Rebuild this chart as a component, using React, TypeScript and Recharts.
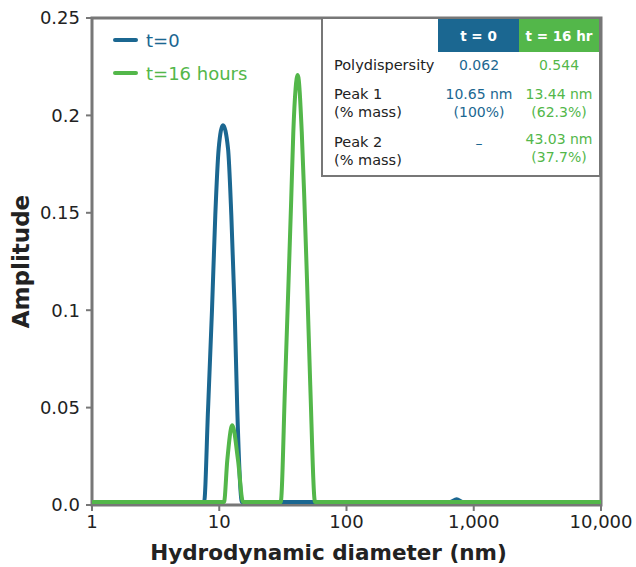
import { LineChart, Line, XAxis, YAxis, ReferenceArea } from 'recharts';

// baseline of both traces sits just above zero
const BASE = 0.0015;

const t0Diameter = [1, 7.6, 8.16, 8.77, 9.31, 9.9, 10.7, 11.72, 12.44, 13.22, 13.86, 15.1, 650, 734, 820, 10000];
const t0Amplitude = [BASE, BASE, 0.0487, 0.1001, 0.1488, 0.183, 0.195, 0.183, 0.1488, 0.1001, 0.0487, BASE, BASE, 0.003, BASE, BASE];

const t16Diameter = [1, 10.9, 11.57, 12.66, 14.04, 15.37, 30.4, 32.9, 35.1, 36.8, 38.2, 41.4, 44.5, 46.6, 48.9, 51.9, 56.6, 10000];
const t16Amplitude = [BASE, BASE, 0.0231, 0.041, 0.0231, BASE, BASE, 0.0616, 0.1163, 0.1574, 0.1915, 0.2207, 0.1915, 0.1574, 0.1163, 0.0616, BASE, BASE];

const xTicks = [1, 10, 100, 1000, 10000];
const yTicks = [0, 0.05, 0.1, 0.15, 0.2, 0.25];

const seriesNames = ['t=0', 't=16 hours'];
const tableHeaders = ['t = 0', 't = 16 hr'];
const rowLabels = [['Polydispersity'], ['Peak 1', '(% mass)'], ['Peak 2', '(% mass)']];
const t0Cells = [['0.062'], ['10.65 nm', '(100%)'], ['–']];
const t16Cells = [['0.544'], ['13.44 nm', '(62.3%)'], ['43.03 nm', '(37.7%)']];

const BLUE = '#1b6791';
const GREEN = '#53b74a';
const AXIS = '#777777';
const FONT = '"DejaVu Sans", sans-serif';

const t0Data = t0Diameter.map((d, i) => ({ d, amp: t0Amplitude[i] }));
const t16Data = t16Diameter.map((d, i) => ({ d, amp: t16Amplitude[i] }));

const rowTops = [37, 66, 114];

const App = () => {
  return (
    <div style={{ position: 'absolute', left: 0, top: 0, width: 636, height: 567, fontFamily: FONT, background: '#fff' }}>
      <LineChart width={636} height={567} margin={{ top: 18, right: 35, left: 0, bottom: 0 }}>
        <XAxis
          dataKey="d"
          type="number"
          scale="log"
          domain={[1, 10000]}
          ticks={xTicks}
          allowDataOverflow
          height={62}
          axisLine={false}
          tickLine={{ stroke: AXIS, strokeWidth: 2 }}
          tickSize={6}
          tickMargin={4}
          tickFormatter={(v: number) => v.toLocaleString('en-US')}
          tick={{ fill: '#222', fontSize: 18, fontFamily: FONT }}
          label={{
            value: 'Hydrodynamic diameter (nm)',
            position: 'insideBottom',
            offset: 7,
            dx: -18,
            style: { fill: '#222', fontSize: 21.5, fontWeight: 'bold', fontFamily: FONT },
          }}
        />
        <YAxis
          dataKey="amp"
          type="number"
          domain={[0, 0.25]}
          ticks={yTicks}
          allowDataOverflow
          width={92}
          axisLine={false}
          tickLine={{ stroke: AXIS, strokeWidth: 2 }}
          tickSize={6}
          tickMargin={6}
          tickFormatter={(v: number) => (v === 0 ? '0.0' : String(v))}
          tick={{ fill: '#222', fontSize: 18, fontFamily: FONT }}
          label={{
            value: 'Amplitude',
            angle: -90,
            position: 'center',
            dx: -25,
            style: { fill: '#222', fontSize: 23, fontWeight: 'bold', fontFamily: FONT },
          }}
        />
        <ReferenceArea x1={1} x2={10000} y1={0} y2={0.25} fill="none" stroke={AXIS} strokeWidth={3} ifOverflow="visible" />
        <Line data={t0Data} dataKey="amp" type="monotone" stroke={BLUE} strokeWidth={4} dot={false} isAnimationActive={false} />
        <Line data={t16Data} dataKey="amp" type="monotone" stroke={GREEN} strokeWidth={4} dot={false} isAnimationActive={false} />
      </LineChart>

      {/* legend */}
      {seriesNames.map((name, i) => (
        <div key={name} style={{ position: 'absolute', left: 113, top: 28 + i * 33, height: 24, display: 'flex', alignItems: 'center', color: i === 0 ? BLUE : GREEN, fontSize: 18 }}>
          <span style={{ display: 'inline-block', width: 25, height: 4, borderRadius: 2, background: i === 0 ? BLUE : GREEN, marginRight: 8 }} />
          {name}
        </div>
      ))}

      {/* summary table */}
      <div style={{ position: 'absolute', left: 321, top: 17, width: 280, height: 160, boxSizing: 'border-box', border: `2px solid ${AXIS}`, background: '#fff', fontSize: 14.5, color: '#222' }}>
        <div style={{ position: 'absolute', left: 115, top: 0, width: 81, height: 33, background: BLUE, color: '#fff', fontWeight: 'bold', display: 'flex', alignItems: 'center', justifyContent: 'center', fontSize: 13.5 }}>{tableHeaders[0]}</div>
        <div style={{ position: 'absolute', left: 196, top: 0, width: 80, height: 33, background: GREEN, color: '#fff', fontWeight: 'bold', display: 'flex', alignItems: 'center', justifyContent: 'center', fontSize: 13.5 }}>{tableHeaders[1]}</div>
        {rowLabels.map((lines, r) => (
          <div key={r} style={{ position: 'absolute', left: 11, top: rowTops[r], lineHeight: '18px' }}>
            {lines.map((l) => <div key={l}>{l}</div>)}
          </div>
        ))}
        {t0Cells.map((lines, r) => (
          <div key={r} style={{ position: 'absolute', left: 110, width: 92, top: rowTops[r] + (r === 2 ? 1 : 0), lineHeight: '18px', color: BLUE, textAlign: 'center', fontSize: 14 }}>
            {lines.map((l) => <div key={l}>{l}</div>)}
          </div>
        ))}
        {t16Cells.map((lines, r) => (
          <div key={r} style={{ position: 'absolute', left: 192, width: 88, top: rowTops[r] - (r === 2 ? 3 : 0), lineHeight: '18px', color: GREEN, textAlign: 'center', fontSize: 14 }}>
            {lines.map((l) => <div key={l}>{l}</div>)}
          </div>
        ))}
      </div>
    </div>
  );
};

export default App;
